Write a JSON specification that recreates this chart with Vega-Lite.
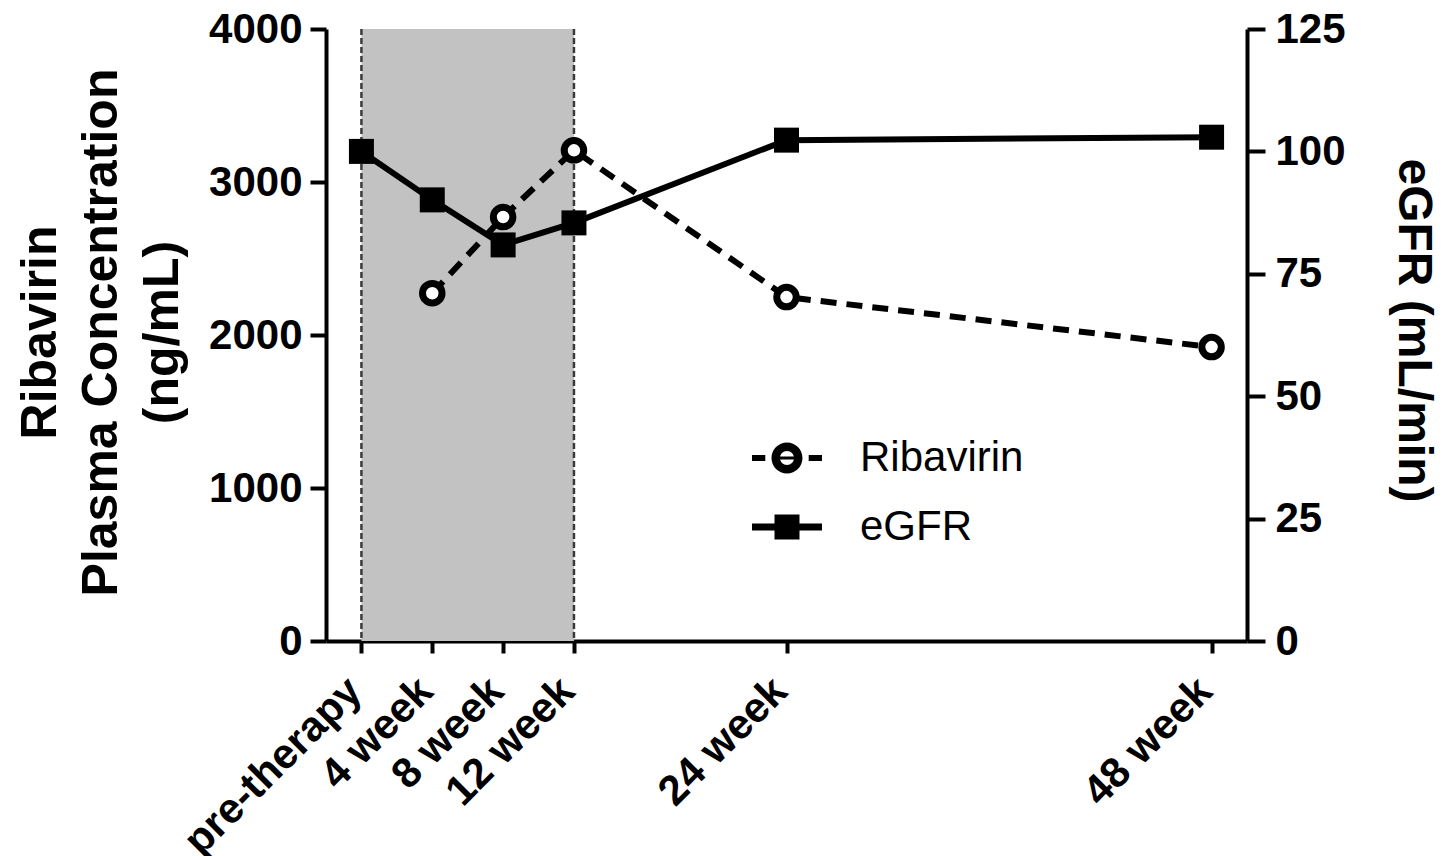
{
  "$schema": "https://vega.github.io/schema/vega-lite/v6.json",
  "width": 921,
  "height": 612,
  "autosize": {"type": "none"},
  "padding": {"left": 326, "top": 29, "right": 196, "bottom": 215},
  "background": "white",
  "config": {
    "view": {"stroke": null},
    "font": "Liberation Sans",
    "axis": {
      "grid": false,
      "domainColor": "black",
      "domainWidth": 4,
      "tickColor": "black",
      "tickWidth": 4,
      "labelColor": "black",
      "labelFont": "Liberation Sans",
      "labelFontWeight": "bold",
      "labelFontSize": 42,
      "labelLimit": 0,
      "titleColor": "black",
      "titleFont": "Liberation Sans",
      "titleFontWeight": "bold"
    }
  },
  "datasets": {
    "series": [
      {"week": 0, "series": "eGFR", "value": 100},
      {"week": 4, "series": "eGFR", "value": 90.1},
      {"week": 8, "series": "eGFR", "value": 80.9},
      {"week": 12, "series": "eGFR", "value": 85.4},
      {"week": 24, "series": "eGFR", "value": 102.3},
      {"week": 48, "series": "eGFR", "value": 102.9},
      {"week": 4, "series": "Ribavirin", "value": 2273},
      {"week": 8, "series": "Ribavirin", "value": 2771},
      {"week": 12, "series": "Ribavirin", "value": 3207},
      {"week": 24, "series": "Ribavirin", "value": 2248},
      {"week": 48, "series": "Ribavirin", "value": 1921}
    ],
    "band": [{"start": 0, "end": 12}],
    "edges": [{"edge": 0}, {"edge": 12}]
  },
  "layer": [
    {
      "data": {"name": "band"},
      "mark": {"type": "rect", "color": "#c2c2c2"},
      "encoding": {
        "x": {"field": "start", "type": "quantitative", "scale": {"domain": [-2, 50], "nice": false, "zero": false},
          "axis": {
            "values": [0, 4, 8, 12, 24, 48],
            "labelExpr": "datum.value == 0 ? 'pre-therapy' : datum.value + ' week'",
            "title": null,
            "tickSize": 12,
            "labelAngle": -45,
            "labelAlign": "right",
            "labelBaseline": "middle",
            "labelPadding": 31,
            "labelOffset": -7,
            "labelOverlap": false,
            "labelFlush": false,
            "labelBound": false
          }},
        "x2": {"field": "end"}
      }
    },
    {
      "data": {"name": "edges"},
      "mark": {"type": "rule", "color": "#3a3a3a", "strokeWidth": 2.5, "strokeDash": [6, 3]},
      "encoding": {
        "x": {"field": "edge", "type": "quantitative"}
      }
    },
    {
      "data": {"name": "series"},
      "transform": [{"filter": "datum.series == 'eGFR'"}],
      "encoding": {
        "x": {"field": "week", "type": "quantitative"},
        "y": {"field": "value", "type": "quantitative",
          "scale": {"domain": [0, 125], "nice": false},
          "axis": {
            "orient": "right",
            "values": [0, 25, 50, 75, 100, 125],
            "tickSize": 18,
            "labelPadding": 10,
            "title": "eGFR (mL/min)",
            "titleFontSize": 48,
            "titleAngle": 90,
            "titleAlign": "center",
            "titleBaseline": "alphabetic",
            "titleX": 151,
            "titleY": 301
          }}
      },
      "layer": [
        {"mark": {"type": "line", "color": "black", "strokeWidth": 6}},
        {"mark": {"type": "square", "color": "black", "filled": true, "size": 625, "opacity": 1}}
      ]
    },
    {
      "data": {"name": "series"},
      "transform": [{"filter": "datum.series == 'Ribavirin'"}],
      "encoding": {
        "x": {"field": "week", "type": "quantitative"},
        "y": {"field": "value", "type": "quantitative",
          "scale": {"domain": [0, 4000], "nice": false},
          "axis": {
            "orient": "left",
            "values": [0, 1000, 2000, 3000, 4000],
            "format": "d",
            "tickSize": 16,
            "labelPadding": 8,
            "title": ["Ribavirin", "Plasma Concentration", "(ng/mL)"],
            "titleFontSize": 50,
            "titleLineHeight": 61,
            "titleAngle": -90,
            "titleAlign": "center",
            "titleBaseline": "top",
            "titleX": -311,
            "titleY": 303
          }}
      },
      "layer": [
        {"mark": {"type": "line", "color": "black", "strokeWidth": 6, "strokeDash": [16, 10]}},
        {"mark": {"type": "point", "shape": "circle", "filled": true, "fill": "white", "stroke": "black", "strokeWidth": 7, "size": 380, "opacity": 1}}
      ]
    },
    {
      "data": {"name": "series"},
      "mark": {"type": "point", "filled": true, "color": "black", "opacity": 0, "size": 4900},
      "encoding": {
        "x": {"field": "week", "type": "quantitative"},
        "shape": {"field": "series", "type": "nominal",
          "scale": {
            "domain": ["Ribavirin", "eGFR"],
            "range": [
              "M-1,-0.086H-0.62V0.086H-1Z M0.62,-0.086H1V0.086H0.62Z M-0.443,0A0.443,0.443,0,1,1,0.443,0A0.443,0.443,0,1,1,-0.443,0Z M-0.2,0A0.2,0.2,0,1,0,0.2,0A0.2,0.2,0,1,0,-0.2,0Z M-0.2,-0.043H0.2V0.043H-0.2Z",
              "M-1,-0.1H1V0.1H-1Z M-0.357,-0.357H0.357V0.357H-0.357Z"
            ]
          },
          "legend": {
            "orient": "none",
            "legendX": 426,
            "legendY": 394,
            "title": null,
            "padding": 0,
            "rowPadding": 13,
            "symbolSize": 4900,
            "symbolOpacity": 1,
            "symbolFillColor": "black",
            "symbolStrokeWidth": 0,
            "labelOffset": 38,
            "labelFontSize": 42,
            "labelFont": "Liberation Sans",
            "labelColor": "black",
            "labelLimit": 0
          }}
      }
    }
  ],
  "resolve": {"scale": {"y": "independent"}}
}
